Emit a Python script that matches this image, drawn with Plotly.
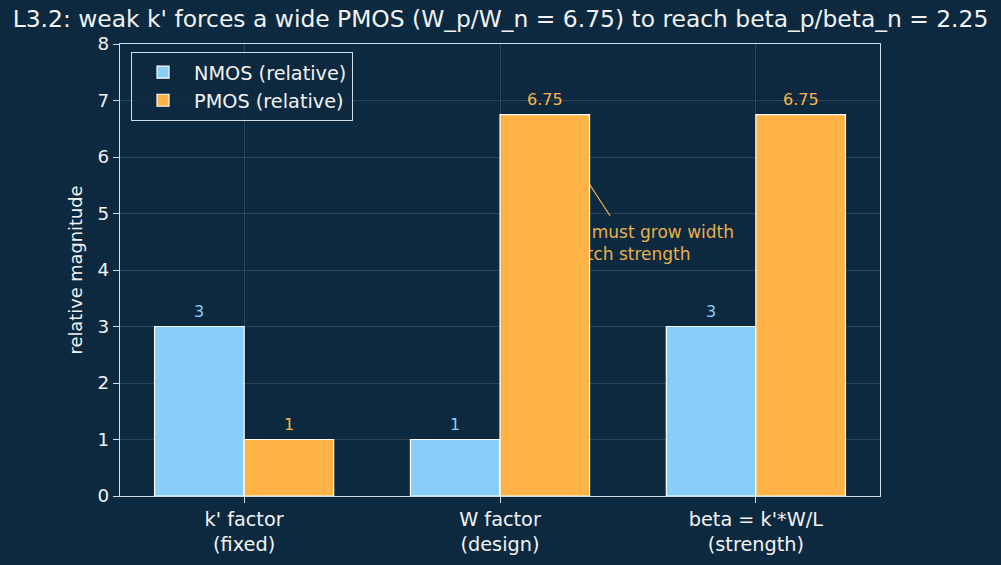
import plotly.graph_objects as go

categories = ["k' factor<br>(fixed)", "W factor<br>(design)", "beta = k'*W/L<br>(strength)"]
nmos_values = [3, 1, 3]
pmos_values = [1, 6.75, 6.75]
series_names = ["NMOS (relative)", "PMOS (relative)"]
title_text = "L3.2: weak k' forces a wide PMOS (W_p/W_n = 6.75) to reach beta_p/beta_n = 2.25"
note_text = "PMOS must grow width<br>to match strength"

BG = "#0c2940"
NCOL = "#87cefa"
PCOL = "#ffb347"
NOTE_COL = "#e8b04a"
SPINE = "#cfdce8"
GRID = "rgba(255,255,255,0.13)"
FONT = "DejaVu Sans"

fig = go.Figure()
fig.add_trace(go.Bar(x=categories, y=nmos_values, name=series_names[0],
                     marker=dict(color=NCOL, line=dict(color="white", width=1.2))))
fig.add_trace(go.Bar(x=categories, y=pmos_values, name=series_names[1],
                     marker=dict(color=PCOL, line=dict(color="white", width=1.2))))

# value labels
for i, (n, p) in enumerate(zip(nmos_values, pmos_values)):
    fig.add_annotation(x=i - 0.175, y=n, text=f"{n:g}", showarrow=False, yanchor="bottom",
                       yshift=4, font=dict(color=NCOL, size=16, family=FONT))
    fig.add_annotation(x=i + 0.175, y=p, text=f"{p:g}", showarrow=False, yanchor="bottom",
                       yshift=4, font=dict(color=PCOL, size=16, family=FONT))

# note drawn beneath the bars
fig.add_shape(type="line", x0=1.43, y0=4.96, x1=1.28, y1=6.0, layer="between",
              line=dict(color=NOTE_COL, width=1.3))
fig.add_shape(type="rect", x0=1.134, x1=2.1, y0=4.04, y1=4.96, layer="between",
              line=dict(width=0), fillcolor="rgba(0,0,0,0)",
              label=dict(text=note_text, textposition="middle left", padding=0,
                         font=dict(color=NOTE_COL, size=17, family=FONT)))

fig.update_layout(
    width=1001, height=565,
    paper_bgcolor=BG, plot_bgcolor=BG,
    font=dict(family=FONT, color="#f2f2f2", size=18),
    barmode="group", bargap=0.3, bargroupgap=0,
    margin=dict(l=120, r=121, t=44, b=69, autoexpand=False),
    title=dict(text=title_text, x=0.5, xanchor="center", y=1 - 19 / 565, yanchor="middle",
               yref="container", font=dict(size=23.4, color="#f2f2f2", family=FONT)),
    legend=dict(x=0.0145, y=0.982, xanchor="left", yanchor="top", itemwidth=52,
                bgcolor="rgba(12,41,64,0.8)", bordercolor=SPINE, borderwidth=1,
                font=dict(size=19.3, color="#f2f2f2", family=FONT), tracegroupgap=0),
    showlegend=True,
)
fig.update_xaxes(range=[-0.485, 2.485], showline=True, linecolor=SPINE, linewidth=1.3, mirror=True,
                 ticks="outside", ticklen=6, tickcolor=SPINE, showgrid=True, gridcolor=GRID,
                 tickfont=dict(size=19.3, color="#f2f2f2"), zeroline=False, automargin=False)
fig.update_yaxes(range=[0, 8], dtick=1, showline=True, linecolor=SPINE, linewidth=1.3, mirror=True,
                 ticks="outside", ticklen=6, tickcolor=SPINE, showgrid=True, gridcolor=GRID,
                 tickfont=dict(size=18.3, color="#f2f2f2"), zeroline=False, automargin=False,
                 title=dict(text="relative magnitude", font=dict(size=17.8, color="#f2f2f2"), standoff=10))

fig.write_html("out.html")
